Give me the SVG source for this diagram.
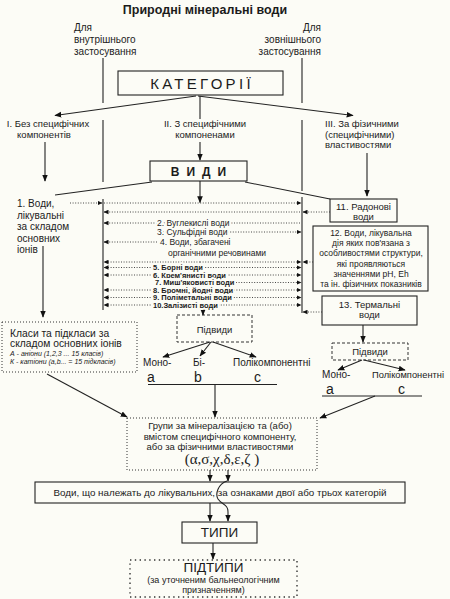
<svg xmlns="http://www.w3.org/2000/svg" width="450" height="599" viewBox="0 0 450 599">
<style>
.t{font-family:"Liberation Sans",Arial,sans-serif;fill:#1b1b1b}
.m{text-anchor:middle}
.e{text-anchor:end}
.ln{stroke:#222;stroke-width:1.1;fill:none}
.dt{stroke:#333;stroke-width:0.9;stroke-dasharray:1 1.6;fill:none}
.box{fill:none;stroke:#222;stroke-width:1.1}
.dash{fill:none;stroke:#333;stroke-width:1;stroke-dasharray:3 2}
.dotb{fill:none;stroke:#333;stroke-width:1;stroke-dasharray:1 2}
.dotb2{fill:none;stroke:#333;stroke-width:1.4;stroke-dasharray:1.4 3.4}
.halo{paint-order:stroke;stroke:#fcfcf6;stroke-width:4;stroke-linejoin:round}
.s85{font-size:8.5px}
.s75{font-size:7.5px;font-weight:bold}
.s95{font-size:9.5px}
.s10{font-size:10px}
.big{font-size:14px}
</style>
<defs>
<marker id="ah" viewBox="0 0 10 10" refX="9" refY="5" markerWidth="7" markerHeight="7" markerUnits="userSpaceOnUse" orient="auto"><path d="M0,1 L10,5 L0,9 z" fill="#111"/></marker>
<marker id="as" viewBox="0 0 10 10" refX="9" refY="5" markerWidth="5" markerHeight="5" markerUnits="userSpaceOnUse" orient="auto"><path d="M0,0.5 L10,5 L0,9.5 z" fill="#111"/></marker>
</defs>
<rect x="0" y="0" width="450" height="599" fill="#fcfcf6"/>

<g id="title"><text class="t m" x="205" y="14" font-size="12.5" font-weight="bold">Природні мінеральні води</text></g>

<g id="internal">
<text class="t s10" x="74" y="31">Для</text>
<text class="t s10" x="74" y="43">внутрішнього</text>
<text class="t s10" x="74" y="54.5">застосування</text>
</g>
<g id="external">
<text class="t s10 e" x="321" y="31">Для</text>
<text class="t s10 e" x="321" y="43">зовнішнього</text>
<text class="t s10 e" x="321" y="54.5">застосування</text>
</g>

<g id="categories">
<rect class="box" x="118" y="71" width="165" height="24"/>
<text class="t m" x="202" y="88.5" font-size="15" letter-spacing="3.3">КАТЕГОРІЇ</text>
</g>

<g id="cat1">
<text class="t s95 m" x="48" y="127">I. Без специфічних</text>
<text class="t s95 m" x="44" y="137.5">компонентів</text>
</g>
<g id="cat2">
<text class="t s95 m" x="205" y="127">II. З специфічними</text>
<text class="t s95 m" x="205" y="137.5">компоненами</text>
</g>
<g id="cat3">
<text class="t s95" x="325" y="127">III. За фізичними</text>
<text class="t s95" x="325" y="137.5">(специфічними)</text>
<text class="t s95" x="325" y="148">властивостями</text>
</g>

<g id="kinds">
<rect class="box" x="150" y="161" width="97" height="20"/>
<text class="t m" x="202" y="175.5" font-size="12" font-weight="bold" letter-spacing="7">ВИДИ</text>
</g>

<g id="ions">
<text class="t s10" x="17" y="207">1. Води,</text>
<text class="t s10" x="17" y="218.5">лікувальні</text>
<text class="t s10" x="17" y="230">за складом</text>
<text class="t s10" x="17" y="241.5">основних</text>
<text class="t s10" x="17" y="253">іонів</text>
</g>

<g id="radon">
<rect class="box" x="330" y="199" width="67" height="23"/>
<text class="t s95 m" x="363.5" y="210">11. Радонові</text>
<text class="t s95 m" x="363.5" y="219.5">води</text>
</g>

<g id="structure">
<rect class="box" x="313" y="226" width="115" height="65"/>
<text class="t s85 m" x="371" y="236">12. Води, лікувальна</text>
<text class="t s85 m" x="371" y="246">дія яких пов'язана з</text>
<text class="t s85 m" x="371" y="256">особливостями структури,</text>
<text class="t s85 m" x="371" y="267">які проявляються</text>
<text class="t s85 m" x="371" y="277">значеннями pH, Eh</text>
<text class="t s85 m" x="371" y="287">та ін. фізичних показників</text>
</g>

<g id="thermal">
<rect class="box" x="322" y="296" width="95" height="29"/>
<text class="t s95 m" x="369.5" y="307.5">13. Термальні</text>
<text class="t s95 m" x="369.5" y="318">води</text>
</g>

<g id="classes">
<rect class="dotb" x="2" y="322" width="135" height="50"/>
<text class="t" x="10" y="337" font-size="10.3">Класи та підкласи за</text>
<text class="t" x="10" y="346.5" font-size="10.3">складом основних іонів</text>
<text class="t" x="10" y="355.5" font-size="7" font-style="italic">А - аніони (1,2,3 ... 15 класів)</text>
<text class="t" x="10" y="364" font-size="7" font-style="italic">К - катіони (a,b... = 15 підкласів)</text>
</g>

<g id="subkinds1">
<rect class="dash" x="177" y="315" width="75" height="27"/>
<text class="t s95 m" x="214.5" y="333">Підвиди</text>
</g>
<g id="subkinds1-labels">
<text class="t s10" x="143" y="366">Моно-</text>
<text class="t big" x="147" y="381.5">a</text>
<text class="t s10" x="193" y="365.5">Бі-</text>
<text class="t big" x="194" y="381.5">b</text>
<text class="t s10" x="233" y="366">Полікомпонентні</text>
<text class="t big" x="254" y="381.5">c</text>
</g>

<g id="subkinds2">
<rect class="dash" x="332" y="343" width="76" height="17"/>
<text class="t s95 m" x="370" y="355">Підвиди</text>
</g>
<g id="subkinds2-labels">
<text class="t s10" x="322" y="378">Моно-</text>
<text class="t big" x="326" y="393.5">a</text>
<text class="t" x="372" y="378" font-size="9.3">Полікомпонентні</text>
<text class="t big" x="398" y="393.5">c</text>
</g>

<g id="groups">
<rect class="dotb" x="127" y="418" width="190" height="52"/>
<text class="t s95 m" x="220" y="429">Групи за мінералізацією та (або)</text>
<text class="t s95 m" x="220" y="440">вмістом специфічного компоненту,</text>
<text class="t s95 m" x="220" y="450">або за фізичними властивостями</text>
<text class="m" x="222" y="463.5" font-family="'Liberation Serif','Times New Roman',serif" font-size="15" fill="#1b1b1b">(α,σ,χ,δ,ε,ζ )</text>
</g>

<g id="combined">
<rect class="box" x="35" y="482" width="370" height="21"/>
<text class="t m" x="220" y="496" font-size="9.8">Води, що належать до лікувальних, за ознаками двої або трьох категорій</text>
</g>

<g id="types">
<rect class="box" x="182" y="522" width="75" height="21"/>
<text class="t m" x="219.5" y="537" font-size="13.5">ТИПИ</text>
</g>

<g id="subtypes">
<rect class="dotb2" x="130" y="560" width="167" height="37"/>
<text class="t m" x="213.5" y="571.5" font-size="13.5">ПІДТИПИ</text>
<text class="t m" x="213.5" y="583" font-size="9">(за уточненим бальнеологічним</text>
<text class="t m" x="213.5" y="593" font-size="9">призначенням)</text>
</g>

<g id="connectors">
<line class="ln" x1="103" y1="58" x2="103" y2="103"/>
<line class="ln" x1="103" y1="120" x2="103" y2="182"/>
<line class="ln" x1="103" y1="199" x2="103" y2="310"/>
<line class="ln" x1="302" y1="58" x2="302" y2="103"/>
<line class="ln" x1="302" y1="120" x2="302" y2="191"/>
<line class="ln" x1="302" y1="197" x2="302" y2="313"/>
<line class="ln" x1="196" y1="96" x2="55" y2="115.5" marker-end="url(#ah)"/>
<line class="ln" x1="198" y1="96" x2="353" y2="115.5" marker-end="url(#ah)"/>
<line class="ln" x1="200" y1="96" x2="200" y2="119"/>
<line class="ln" x1="200" y1="142" x2="200" y2="160" marker-end="url(#ah)"/>
<line class="ln" x1="45" y1="142" x2="45" y2="181" marker-end="url(#ah)"/>
<line class="ln" x1="367" y1="153" x2="367" y2="196" marker-end="url(#ah)"/>
<line class="ln" x1="152" y1="182" x2="55" y2="195"/>
<line class="ln" x1="245" y1="182" x2="330" y2="199"/>
<line class="ln" x1="200" y1="181" x2="200" y2="202.5" marker-end="url(#ah)"/>
<line class="dt" x1="70" y1="203" x2="102" y2="203" marker-end="url(#as)"/>
<line class="dt" x1="104" y1="203" x2="301" y2="203" marker-end="url(#as)"/>
<line class="dt" x1="300" y1="212" x2="104" y2="212" marker-end="url(#as)"/>
<line class="dt" x1="330" y1="212" x2="303" y2="212" marker-end="url(#as)"/>
<line class="dt" x1="300" y1="223" x2="104" y2="223" marker-end="url(#as)"/>
<line class="dt" x1="160" y1="232" x2="301" y2="232" marker-end="url(#as)"/>
<line class="dt" x1="157" y1="242" x2="104" y2="242" marker-end="url(#as)"/>
<line class="dt" x1="200" y1="262" x2="104" y2="262" marker-end="url(#as)"/>
<line class="dt" x1="200" y1="262" x2="301" y2="262" marker-end="url(#as)"/>
<line class="dt" x1="313" y1="262" x2="303" y2="262" marker-end="url(#as)"/>
<line class="dt" x1="200" y1="267.5" x2="104" y2="267.5" marker-end="url(#as)"/>
<line class="dt" x1="200" y1="267.5" x2="301" y2="267.5" marker-end="url(#as)"/>
<line class="dt" x1="200" y1="275" x2="104" y2="275" marker-end="url(#as)"/>
<line class="dt" x1="200" y1="275" x2="301" y2="275" marker-end="url(#as)"/>
<line class="dt" x1="158" y1="282.5" x2="301" y2="282.5" marker-end="url(#as)"/>
<line class="dt" x1="200" y1="290" x2="104" y2="290" marker-end="url(#as)"/>
<line class="dt" x1="200" y1="290" x2="301" y2="290" marker-end="url(#as)"/>
<line class="dt" x1="200" y1="297.5" x2="104" y2="297.5" marker-end="url(#as)"/>
<line class="dt" x1="200" y1="297.5" x2="301" y2="297.5" marker-end="url(#as)"/>
<line class="dt" x1="200" y1="305" x2="104" y2="305" marker-end="url(#as)"/>
<line class="dt" x1="200" y1="305" x2="301" y2="305" marker-end="url(#as)"/>
<line class="dt" x1="322" y1="312" x2="303" y2="312" marker-end="url(#as)"/>
<line class="ln" x1="43" y1="246" x2="43" y2="317" marker-end="url(#ah)"/>
<line class="ln" x1="203" y1="306" x2="203" y2="315" marker-end="url(#ah)"/>
<line class="ln" x1="210" y1="342" x2="163" y2="357" marker-end="url(#ah)"/>
<line class="ln" x1="211" y1="342" x2="200" y2="356" marker-end="url(#ah)"/>
<line class="ln" x1="213" y1="342" x2="256" y2="357" marker-end="url(#ah)"/>
<line class="ln" x1="148" y1="384.5" x2="277" y2="384.5"/>
<line class="ln" x1="215" y1="384.5" x2="215" y2="417" marker-end="url(#ah)"/>
<line class="ln" x1="363" y1="325" x2="363" y2="342" marker-end="url(#ah)"/>
<line class="ln" x1="362" y1="360" x2="338" y2="370" marker-end="url(#ah)"/>
<line class="ln" x1="364" y1="360" x2="405" y2="370" marker-end="url(#ah)"/>
<line class="ln" x1="322" y1="396" x2="422" y2="396"/>
<line class="ln" x1="375" y1="396" x2="320" y2="418" marker-end="url(#ah)"/>
<line class="ln" x1="47" y1="374" x2="127" y2="417" marker-end="url(#ah)"/>
<line class="ln" x1="210" y1="470" x2="210" y2="481" marker-end="url(#ah)"/>
<line class="ln" x1="228" y1="470" x2="228" y2="481" marker-end="url(#ah)"/>
<path class="ln" d="M227,481 C218,484 215,494 218,499 C222,505 228,504 228,512 L228,521" marker-end="url(#ah)"/>
<line class="ln" x1="210" y1="503" x2="210" y2="521" marker-end="url(#ah)"/>
<line class="ln" x1="213" y1="543" x2="213" y2="559" marker-end="url(#ah)"/>
</g>

<g id="rows">
<text class="t s85 halo" x="157" y="226">2. Вуглекислі води</text>
<text class="t s85 halo" x="157" y="235">3. Сульфідні води</text>
<text class="t s85 halo" x="160" y="245">4. Води, збагачені</text>
<text class="t s85" x="168" y="255.5">органічними речовинами</text>
<text class="t s75 halo" x="153" y="270">5. Борні води</text>
<text class="t s75 halo" x="153" y="277.7">6. Крем'янисті води</text>
<text class="t s75 halo" x="155" y="285.2">7. Миш'яковисті води</text>
<text class="t s75 halo" x="153" y="292.7">8. Бромні, йодні води</text>
<text class="t s75 halo" x="153" y="300.2">9. Поліметальні води</text>
<text class="t s75 halo" x="153" y="307.7">10.Залізисті води</text>
</g>
</svg>
